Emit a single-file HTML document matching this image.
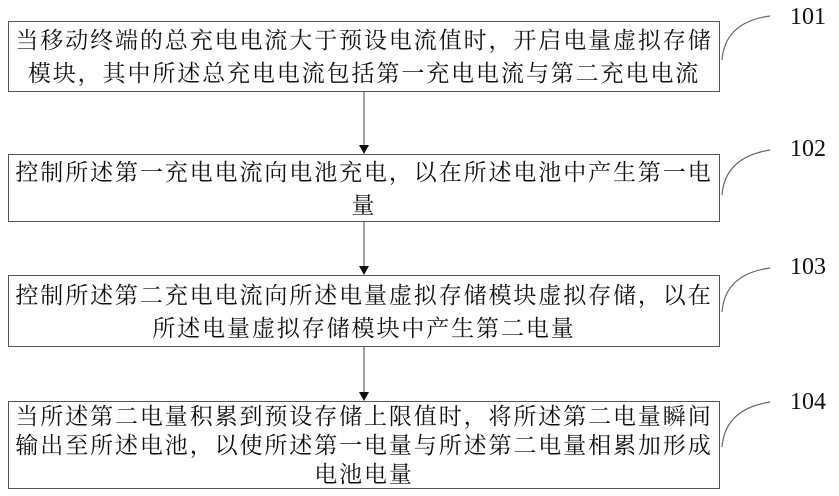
<!DOCTYPE html>
<html><head><meta charset="utf-8"><style>
body{margin:0;width:839px;height:496px;background:#fff;position:relative;overflow:hidden;font-family:"Liberation Serif","Noto Serif CJK SC",serif;}
.b{position:absolute;left:8px;width:712px;border:1px solid #555;box-sizing:border-box;text-align:center;font-size:23px;line-height:33px;letter-spacing:1.9px;color:#111;white-space:nowrap;}
.n{position:absolute;font-size:24px;color:#111;}
</style></head><body>
<div class="b" style="top:21px;height:71px;padding-top:2px">当移动终端的总充电电流大于预设电流值时，开启电量虚拟存储<br>模块，其中所述总充电电流包括第一充电电流与第二充电电流</div>
<div class="b" style="top:154px;height:68px;padding-top:1px">控制所述第一充电电流向电池充电，以在所述电池中产生第一电<br>量</div>
<div class="b" style="top:275px;height:72px;padding-top:3px">控制所述第二充电电流向所述电量虚拟存储模块虚拟存储，以在<br>所述电量虚拟存储模块中产生第二电量</div>
<div class="b" style="top:401px;height:88px;padding-top:0px;line-height:29px">当所述第二电量积累到预设存储上限值时，将所述第二电量瞬间<br>输出至所述电池，以使所述第一电量与所述第二电量相累加形成<br>电池电量</div>
<svg width="839" height="496" style="position:absolute;left:0;top:0">
<g stroke="#666" stroke-width="1.2" fill="none">
<line x1="364" y1="92" x2="364" y2="146"/>
<line x1="364" y1="222" x2="364" y2="267"/>
<line x1="364" y1="347" x2="364" y2="393"/>
<path d="M722 60 Q725 22 770 16"/>
<path d="M722 195 Q725 157 770 150"/>
<path d="M722 312 Q725 274 770 268"/>
<path d="M722 447 Q725 409 770 402"/>
</g>
<g fill="#111">
<polygon points="359,145 369,145 364,154"/>
<polygon points="359,266 369,266 364,275"/>
<polygon points="359,392 369,392 364,401"/>
</g>
</svg>
<div class="n" style="left:790px;top:4px">101</div>
<div class="n" style="left:790px;top:136px">102</div>
<div class="n" style="left:790px;top:254px">103</div>
<div class="n" style="left:790px;top:389px">104</div>
</body></html>
